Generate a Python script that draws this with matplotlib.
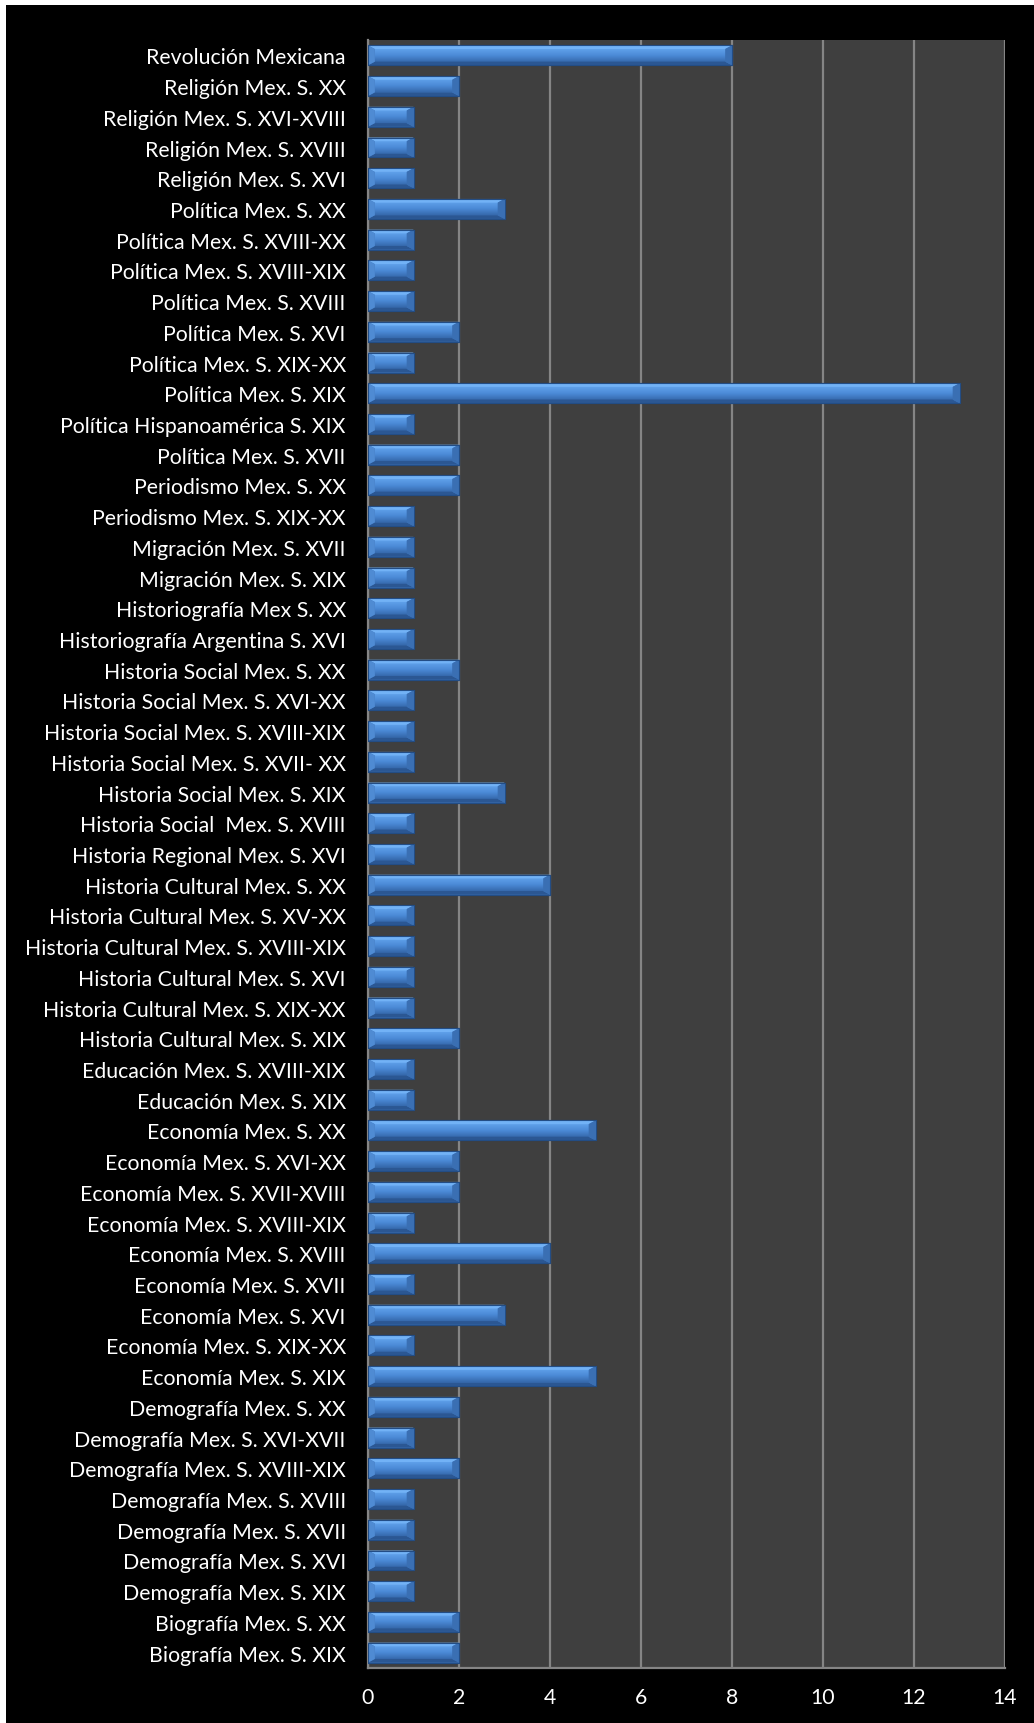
import matplotlib
matplotlib.use("Agg")
import matplotlib.pyplot as plt
import numpy as np
from matplotlib.patches import Polygon, Rectangle

# categories from bottom to top, as in the chart
categorias = [
    "Biografía Mex. S. XIX",
    "Biografía Mex. S. XX",
    "Demografía Mex. S. XIX",
    "Demografía Mex. S. XVI",
    "Demografía Mex. S. XVII",
    "Demografía Mex. S. XVIII",
    "Demografía Mex. S. XVIII-XIX",
    "Demografía Mex. S. XVI-XVII",
    "Demografía Mex. S. XX",
    "Economía Mex. S. XIX",
    "Economía Mex. S. XIX-XX",
    "Economía Mex. S. XVI",
    "Economía Mex. S. XVII",
    "Economía Mex. S. XVIII",
    "Economía Mex. S. XVIII-XIX",
    "Economía Mex. S. XVII-XVIII",
    "Economía Mex. S. XVI-XX",
    "Economía Mex. S. XX",
    "Educación Mex. S. XIX",
    "Educación Mex. S. XVIII-XIX",
    "Historia Cultural Mex. S. XIX",
    "Historia Cultural Mex. S. XIX-XX",
    "Historia Cultural Mex. S. XVI",
    "Historia Cultural Mex. S. XVIII-XIX",
    "Historia Cultural Mex. S. XV-XX",
    "Historia Cultural Mex. S. XX",
    "Historia Regional Mex. S. XVI",
    "Historia Social  Mex. S. XVIII",
    "Historia Social Mex. S. XIX",
    "Historia Social Mex. S. XVII- XX",
    "Historia Social Mex. S. XVIII-XIX",
    "Historia Social Mex. S. XVI-XX",
    "Historia Social Mex. S. XX",
    "Historiografía Argentina S. XVI",
    "Historiografía Mex S. XX",
    "Migración Mex. S. XIX",
    "Migración Mex. S. XVII",
    "Periodismo Mex. S. XIX-XX",
    "Periodismo Mex. S. XX",
    "Política Mex. S. XVII",
    "Política Hispanoamérica S. XIX",
    "Política Mex. S. XIX",
    "Política Mex. S. XIX-XX",
    "Política Mex. S. XVI",
    "Política Mex. S. XVIII",
    "Política Mex. S. XVIII-XIX",
    "Política Mex. S. XVIII-XX",
    "Política Mex. S. XX",
    "Religión Mex. S. XVI",
    "Religión Mex. S. XVIII",
    "Religión Mex. S. XVI-XVIII",
    "Religión Mex. S. XX",
    "Revolución Mexicana",
]
valores = [2, 2, 1, 1, 1, 1, 2, 1, 2,
           5, 1, 3, 1, 4, 1, 2, 2, 5,
           1, 1,
           2, 1, 1, 1, 1, 4,
           1,
           1, 3, 1, 1, 1, 2,
           1, 1,
           1, 1,
           1, 2,
           2, 1, 13, 1, 2, 1, 1, 1, 3,
           1, 1, 1, 2,
           8]
ticks_x = [0, 2, 4, 6, 8, 10, 12, 14]

plt.rcParams['font.family'] = ['Lato', 'DejaVu Sans']

W, H = 1034, 1724
fig = plt.figure(figsize=(W / 100, H / 100), dpi=100, facecolor='black')
ax = fig.add_axes([368 / W, 1 - 1669 / H, (1005 - 368) / W, (1669 - 41) / H])
ax.set_facecolor('#3f3f3f')

y = np.arange(len(categorias))
alto = 0.65
hh = alto / 2
dx, dy = 0.15, 0.12

bars = ax.barh(y, valores, height=alto, color='#3f78c0',
               edgecolor='#1f4475', linewidth=0.8, zorder=3)

cara = matplotlib.colors.LinearSegmentedColormap.from_list(
    'cara', ['#3669ad', '#4b8ad6', '#5fa0ea'])
grad = np.linspace(0, 1, 64).reshape(-1, 1)
for b, v, yi in zip(bars, valores, y):
    # face gradient (light at top, darker at bottom)
    ax.imshow(grad, cmap=cara,
              extent=[dx, v - dx, yi - hh + dy, yi + hh - dy], origin='lower',
              aspect='auto', zorder=4, interpolation='bilinear')
    top = Polygon([(0, yi + hh), (v, yi + hh), (v - dx, yi + hh - dy), (dx, yi + hh - dy)],
                  closed=True, facecolor='#72b2f6', edgecolor='none', zorder=5)
    bot = Polygon([(0, yi - hh), (v, yi - hh), (v - dx, yi - hh + dy), (dx, yi - hh + dy)],
                  closed=True, facecolor='#2b5793', edgecolor='none', zorder=5)
    der = Polygon([(v, yi + hh), (v, yi - hh), (v - dx, yi - hh + dy), (v - dx, yi + hh - dy)],
                  closed=True, facecolor='#3a6fb3', edgecolor='none', zorder=5)
    izq = Polygon([(0, yi + hh), (0, yi - hh), (dx, yi - hh + dy), (dx, yi + hh - dy)],
                  closed=True, facecolor='#4f8bd3', edgecolor='none', zorder=5)
    for p in (top, bot, der, izq):
        ax.add_patch(p)
    ax.add_patch(Rectangle((0, yi - hh), v, alto, facecolor='none',
                           edgecolor='#234d85', linewidth=0.8, zorder=6))

ax.set_xlim(0, 14)
ax.set_ylim(-0.5, len(categorias) - 0.5)
ax.set_xticks(ticks_x)
ax.set_yticks(y)
ax.set_yticklabels(categorias)
ax.xaxis.grid(True, color='#858585', linewidth=1.6, zorder=1)
ax.set_axisbelow(True)
ax.tick_params(axis='both', length=0, colors='white', labelsize=15.3)
ax.tick_params(axis='y', pad=16)
ax.tick_params(axis='x', pad=14)
for s in ('top', 'right'):
    ax.spines[s].set_visible(False)
for s in ('left', 'bottom'):
    ax.spines[s].set_color('#858585')
    ax.spines[s].set_linewidth(1.6)

# thin white frame on top and left
fig.patches.append(Rectangle((0, 1 - 6 / H), 1, 6 / H, transform=fig.transFigure,
                             facecolor='white', edgecolor='none', zorder=10))
fig.patches.append(Rectangle((0, 0), 6 / W, 1, transform=fig.transFigure,
                             facecolor='white', edgecolor='none', zorder=10))

fig.savefig('out.png', dpi=100, facecolor='black')
plt.close(fig)
